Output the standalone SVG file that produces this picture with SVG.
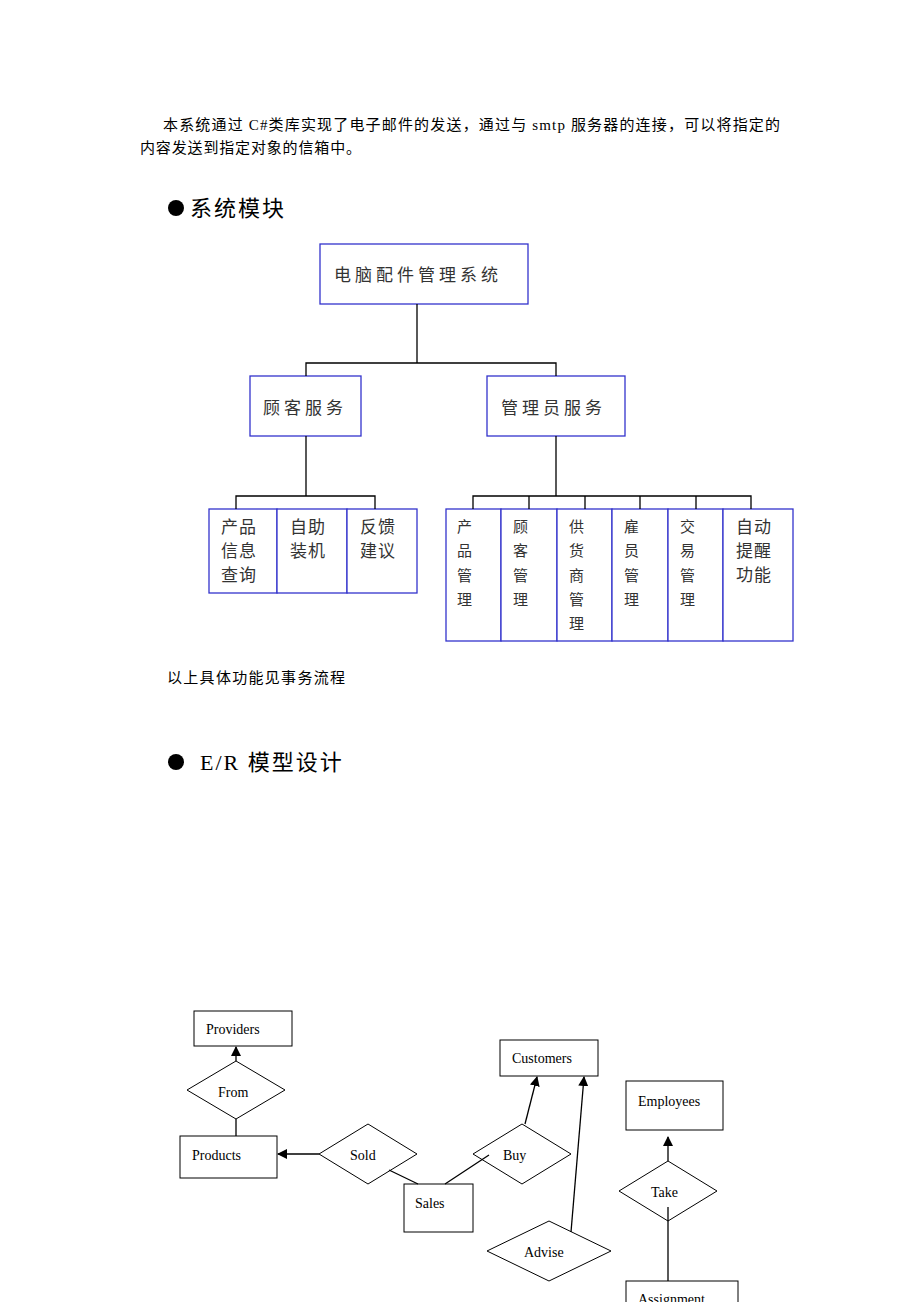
<svg xmlns="http://www.w3.org/2000/svg" width="920" height="1302" viewBox="0 0 920 1302">
<style>
.b{fill:#fff;stroke:#33c;stroke-width:1.3}
.e{fill:#fff;stroke:#000;stroke-width:1}
.l{stroke:#000;stroke-width:1.3;fill:none}
.t{font-family:"Liberation Serif","Noto Sans CJK SC",serif;font-size:15px;fill:#000}
.c{font-family:"Noto Sans CJK SC",sans-serif;font-size:17px;fill:#333;letter-spacing:4px}
.h{font-family:"Liberation Serif","Noto Sans CJK SC",serif;font-size:22px;fill:#000;letter-spacing:2px}
.er{font-family:"Liberation Serif",serif;font-size:14px;fill:#000}
</style>
<defs><marker id="a" markerWidth="10" markerHeight="10" refX="9" refY="5" orient="auto" markerUnits="userSpaceOnUse"><path d="M0,0L10,5L0,10z" fill="#000"/></marker></defs>
<rect width="920" height="1302" fill="#fff"/>
<text class="t" x="163" y="130" textLength="617" lengthAdjust="spacing">本系统通过 C#类库实现了电子邮件的发送，通过与 smtp 服务器的连接，可以将指定的</text>
<text class="t" x="140" y="153" textLength="221" lengthAdjust="spacing">内容发送到指定对象的信箱中。</text>
<circle cx="176" cy="208" r="8"/>
<text class="h" x="190" y="216">系统模块</text>
<text class="t" x="167" y="683" textLength="178" lengthAdjust="spacing">以上具体功能见事务流程</text>
<circle cx="176" cy="762" r="8"/>
<text class="h" x="200" y="770">E/R 模型设计</text>
<g id="n0"><rect class="b" x="320" y="244" width="208" height="60"/><text class="c" x="334" y="281">电脑配件管理系统</text></g>
<g id="n1"><rect class="b" x="250" y="376" width="111" height="60"/><text class="c" x="263" y="414">顾客服务</text></g>
<g id="n2"><rect class="b" x="487" y="376" width="138" height="60"/><text class="c" x="501" y="414">管理员服务</text></g>
<g id="n3"><rect class="b" x="209" y="509" width="68" height="84"/><text class="c" x="221" y="533" style="letter-spacing:1px">产品</text><text class="c" x="221" y="557" style="letter-spacing:1px">信息</text><text class="c" x="221" y="581" style="letter-spacing:1px">查询</text></g>
<g id="n4"><rect class="b" x="277" y="509" width="70" height="84"/><text class="c" x="290" y="533" style="letter-spacing:1px">自助</text><text class="c" x="290" y="557" style="letter-spacing:1px">装机</text></g>
<g id="n5"><rect class="b" x="347" y="509" width="70" height="84"/><text class="c" x="360" y="533" style="letter-spacing:1px">反馈</text><text class="c" x="360" y="557" style="letter-spacing:1px">建议</text></g>
<g id="n6"><rect class="b" x="446" y="509" width="55" height="132"/><text class="c" x="457" y="532" style="font-size:15px">产</text><text class="c" x="457" y="556" style="font-size:15px">品</text><text class="c" x="457" y="581" style="font-size:15px">管</text><text class="c" x="457" y="605" style="font-size:15px">理</text></g>
<g id="n7"><rect class="b" x="501" y="509" width="56" height="132"/><text class="c" x="513" y="532" style="font-size:15px">顾</text><text class="c" x="513" y="556" style="font-size:15px">客</text><text class="c" x="513" y="581" style="font-size:15px">管</text><text class="c" x="513" y="605" style="font-size:15px">理</text></g>
<g id="n8"><rect class="b" x="557" y="509" width="55" height="132"/><text class="c" x="569" y="532" style="font-size:15px">供</text><text class="c" x="569" y="556" style="font-size:15px">货</text><text class="c" x="569" y="581" style="font-size:15px">商</text><text class="c" x="569" y="605" style="font-size:15px">管</text><text class="c" x="569" y="629" style="font-size:15px">理</text></g>
<g id="n9"><rect class="b" x="612" y="509" width="56" height="132"/><text class="c" x="624" y="532" style="font-size:15px">雇</text><text class="c" x="624" y="556" style="font-size:15px">员</text><text class="c" x="624" y="581" style="font-size:15px">管</text><text class="c" x="624" y="605" style="font-size:15px">理</text></g>
<g id="n10"><rect class="b" x="668" y="509" width="55" height="132"/><text class="c" x="680" y="532" style="font-size:15px">交</text><text class="c" x="680" y="556" style="font-size:15px">易</text><text class="c" x="680" y="581" style="font-size:15px">管</text><text class="c" x="680" y="605" style="font-size:15px">理</text></g>
<g id="n11"><rect class="b" x="723" y="509" width="70" height="132"/><text class="c" x="736" y="533" style="letter-spacing:1px">自动</text><text class="c" x="736" y="557" style="letter-spacing:1px">提醒</text><text class="c" x="736" y="581" style="letter-spacing:1px">功能</text></g>
<g id="providers"><rect class="e" x="194" y="1011" width="98" height="35"/><text class="er" x="206" y="1034">Providers</text></g>
<g id="from"><polygon class="e" points="236,1061 285,1090 236,1119 187,1090"/><text class="er" x="218" y="1097">From</text></g>
<g id="products"><rect class="e" x="180" y="1136" width="97" height="42"/><text class="er" x="192" y="1160">Products</text></g>
<g id="sold"><polygon class="e" points="368,1124 417,1154 368,1184 319,1154"/><text class="er" x="350" y="1160">Sold</text></g>
<g id="sales"><rect class="e" x="404" y="1184" width="69" height="48"/><text class="er" x="415" y="1208">Sales</text></g>
<g id="buy"><polygon class="e" points="522,1124 571,1154 522,1184 473,1154"/><text class="er" x="503" y="1160">Buy</text></g>
<g id="customers"><rect class="e" x="500" y="1040" width="98" height="36"/><text class="er" x="512" y="1063">Customers</text></g>
<g id="advise"><polygon class="e" points="549,1221 611,1251 549,1281 487,1251"/><text class="er" x="524" y="1257">Advise</text></g>
<g id="employees"><rect class="e" x="626" y="1081" width="97" height="49"/><text class="er" x="638" y="1106">Employees</text></g>
<g id="take"><polygon class="e" points="668,1161 717,1191 668,1221 619,1191"/><text class="er" x="651" y="1197">Take</text></g>
<g id="assignment"><rect class="e" x="626" y="1281" width="112" height="40"/><text class="er" x="638" y="1304">Assignment</text></g>
<g id="connectors">
<path class="l" d="M417,304V363M306,376V363H556V376M306,436V496M236,509V496H375V509M556,436V496M473,509V496H751V509M529,496V509M585,496V509M640,496V509M696,496V509"/>
<path class="l" d="M236,1061V1047" marker-end="url(#a)"/>
<path class="l" d="M236,1119V1136"/>
<path class="l" d="M319,1154H278" marker-end="url(#a)"/>
<path class="l" d="M389,1170L418,1184M445,1184L489,1155"/>
<path class="l" d="M525,1124L537,1077" marker-end="url(#a)"/>
<path class="l" d="M571,1232L584,1077" marker-end="url(#a)"/>
<path class="l" d="M668,1161V1137" marker-end="url(#a)"/>
<path class="l" d="M668,1207V1281"/>
</g>
</svg>
